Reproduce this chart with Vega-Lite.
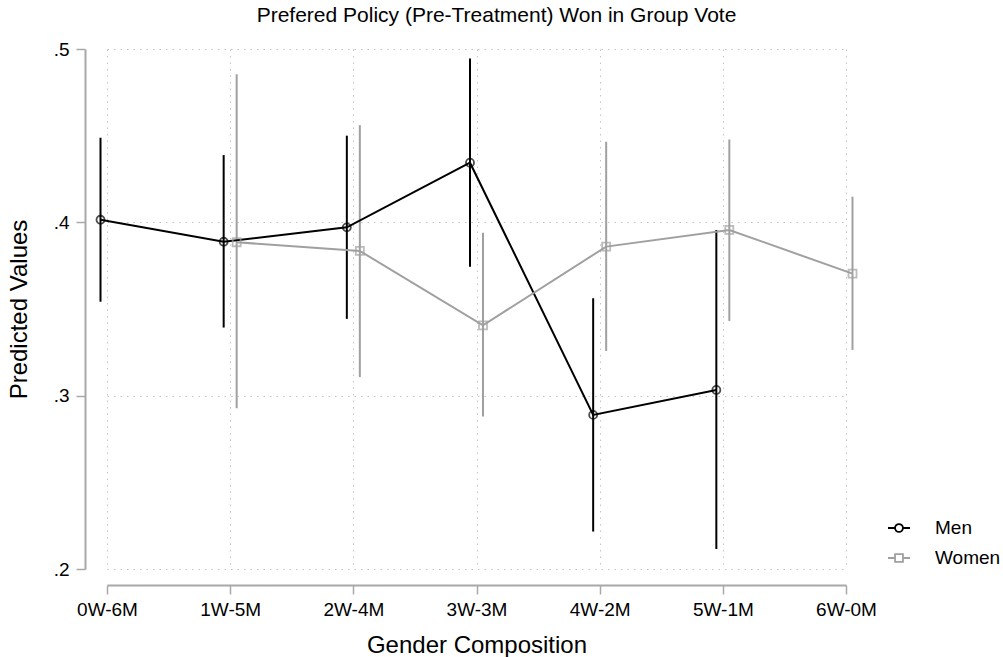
{
  "$schema": "https://vega.github.io/schema/vega-lite/v6.json",
  "width": 739,
  "height": 520,
  "autosize": {"type": "none"},
  "padding": {"left": 107, "top": 49, "right": 157, "bottom": 88},
  "background": "white",
  "config": {
    "font": "Liberation Sans",
    "view": {"stroke": null}
  },
  "title": {
    "text": "Prefered Policy (Pre-Treatment) Won in Group Vote",
    "fontSize": 21,
    "fontWeight": "normal",
    "color": "black",
    "anchor": "middle",
    "dx": 20,
    "offset": 14
  },
  "data": {
    "values": [
      {"composition": "0W-6M", "group": "Men", "est": 0.4015, "lo": 0.3542, "hi": 0.4488},
      {"composition": "1W-5M", "group": "Men", "est": 0.3888, "lo": 0.3393, "hi": 0.4388},
      {"composition": "2W-4M", "group": "Men", "est": 0.3971, "lo": 0.3443, "hi": 0.4500},
      {"composition": "3W-3M", "group": "Men", "est": 0.4344, "lo": 0.3744, "hi": 0.4945},
      {"composition": "4W-2M", "group": "Men", "est": 0.2889, "lo": 0.2216, "hi": 0.3562},
      {"composition": "5W-1M", "group": "Men", "est": 0.3033, "lo": 0.2115, "hi": 0.3956},
      {"composition": "1W-5M", "group": "Women", "est": 0.3885, "lo": 0.2928, "hi": 0.4855},
      {"composition": "2W-4M", "group": "Women", "est": 0.3835, "lo": 0.3107, "hi": 0.4561},
      {"composition": "3W-3M", "group": "Women", "est": 0.3406, "lo": 0.2880, "hi": 0.3940},
      {"composition": "4W-2M", "group": "Women", "est": 0.3860, "lo": 0.3258, "hi": 0.4465},
      {"composition": "5W-1M", "group": "Women", "est": 0.3956, "lo": 0.3431, "hi": 0.4478},
      {"composition": "6W-0M", "group": "Women", "est": 0.3704, "lo": 0.3264, "hi": 0.4148}
    ]
  },
  "encoding": {
    "x": {
      "field": "composition",
      "type": "ordinal",
      "sort": ["0W-6M", "1W-5M", "2W-4M", "3W-3M", "4W-2M", "5W-1M", "6W-0M"],
      "scale": {"type": "point", "padding": 0},
      "axis": {
        "title": "Gender Composition",
        "titleFontSize": 24,
        "titleFontWeight": "normal",
        "titleColor": "black",
        "titlePadding": 14,
        "labelFontSize": 19,
        "labelColor": "black",
        "labelAngle": 0,
        "labelPadding": 6,
        "tickSize": 9,
        "tickWidth": 1.5,
        "tickColor": "#a8a8a8",
        "domainColor": "#a8a8a8",
        "domainWidth": 2,
        "offset": 16,
        "grid": true,
        "gridDash": [1.5, 5],
        "gridColor": "#c4c4c4",
        "gridWidth": 1
      }
    },
    "xOffset": {
      "field": "group",
      "type": "nominal",
      "sort": ["Men", "Women"],
      "scale": {"type": "point", "padding": 0, "range": [-6.5, 6.5]}
    },
    "color": {
      "field": "group",
      "type": "nominal",
      "scale": {"domain": ["Men", "Women"], "range": ["#000000", "#a0a0a0"]},
      "legend": {
        "title": null,
        "orient": "none",
        "legendX": 780,
        "legendY": 467,
        "labelFontSize": 19,
        "labelColor": "black",
        "labelOffset": 24,
        "symbolSize": 484,
        "symbolStrokeWidth": 1.8,
        "symbolOpacity": 1,
        "symbolFillColor": "transparent",
        "rowPadding": 8
      }
    }
  },
  "layer": [
    {
      "mark": {"type": "rule", "strokeWidth": 2},
      "encoding": {
        "y": {
          "field": "lo",
          "type": "quantitative",
          "scale": {"domain": [0.2, 0.5], "nice": false, "zero": false},
          "axis": {
            "title": "Predicted Values",
            "titleFontSize": 24,
            "titleFontWeight": "normal",
            "titleColor": "black",
            "titlePadding": 22,
            "values": [0.2, 0.3, 0.4, 0.5],
            "labelExpr": "substring(format(datum.value, '.1f'), 1)",
            "labelFontSize": 19,
            "labelColor": "black",
            "labelPadding": 7,
            "tickSize": 9,
            "tickWidth": 1.5,
            "tickColor": "#a8a8a8",
            "domainColor": "#a8a8a8",
            "domainWidth": 2,
            "offset": 22,
            "grid": true,
            "gridDash": [1.5, 5],
            "gridColor": "#c4c4c4",
            "gridWidth": 1
          }
        },
        "y2": {"field": "hi"}
      }
    },
    {
      "mark": {"type": "line", "strokeWidth": 2},
      "encoding": {
        "y": {"field": "est", "type": "quantitative"}
      }
    },
    {
      "transform": [{"filter": "datum.group === 'Men'"}],
      "mark": {"type": "point", "shape": "circle", "filled": false, "size": 64, "strokeWidth": 1.8},
      "encoding": {
        "y": {"field": "est", "type": "quantitative"}
      }
    },
    {
      "transform": [{"filter": "datum.group === 'Women'"}],
      "mark": {"type": "point", "shape": "square", "filled": false, "size": 64, "strokeWidth": 1.8},
      "encoding": {
        "y": {"field": "est", "type": "quantitative"}
      }
    },
    {
      "mark": {"type": "point", "filled": false, "opacity": 0},
      "encoding": {
        "y": {"field": "est", "type": "quantitative"},
        "shape": {
          "field": "group",
          "type": "nominal",
          "scale": {
            "domain": ["Men", "Women"],
            "range": [
              "M-1,0H-0.36M0.36,0H1M-0.36,0A0.36,0.36 0 1,1 0.36,0A0.36,0.36 0 1,1 -0.36,0Z",
              "M-1,0H-0.36M0.36,0H1M-0.36,-0.36H0.36V0.36H-0.36Z"
            ]
          },
          "legend": {
            "title": null,
            "orient": "none",
            "legendX": 780,
            "legendY": 467,
            "labelFontSize": 19,
            "labelColor": "black",
            "labelOffset": 24,
            "symbolSize": 484,
            "symbolStrokeWidth": 1.8,
            "symbolOpacity": 1,
            "symbolFillColor": "transparent",
            "rowPadding": 8
          }
        }
      }
    }
  ]
}
